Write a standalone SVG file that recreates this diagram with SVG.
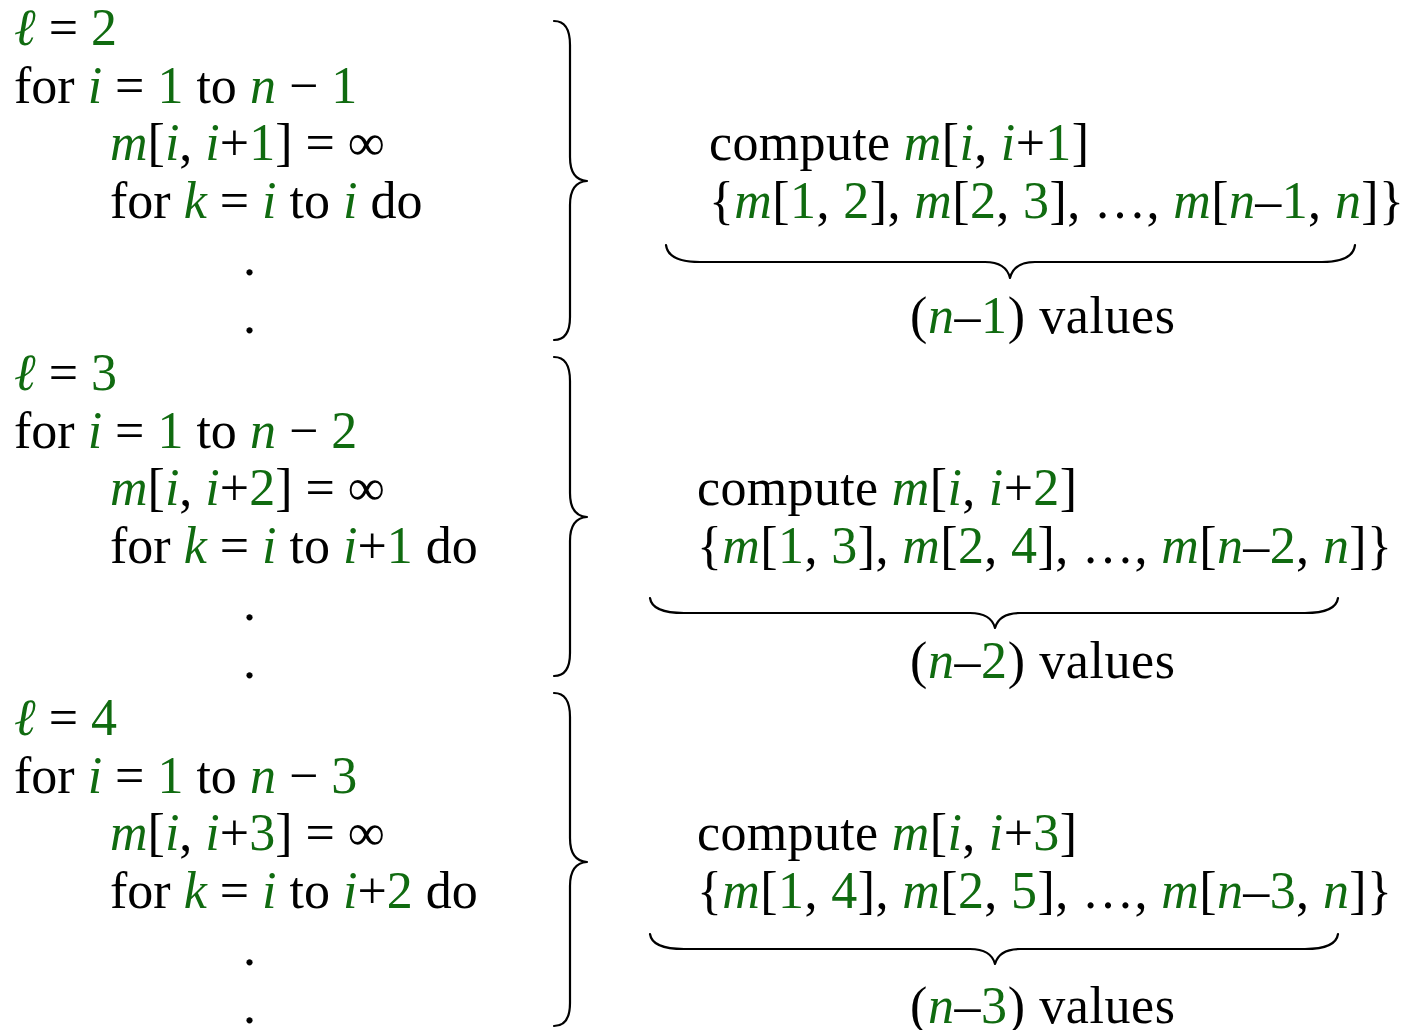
<svg xmlns="http://www.w3.org/2000/svg" width="1408" height="1030" viewBox="0 0 1408 1030">
<style>
text{font-family:"Liberation Serif","Times New Roman",serif;font-size:52px;fill:#000}
.v{fill:#106b10;font-style:italic}
.n{fill:#106b10}
.br{fill:none;stroke:#000;stroke-width:2.2;stroke-linecap:round;stroke-linejoin:round}
</style>
<rect width="1408" height="1030" fill="#fff"/>
<g id="block1-code">
<text x="14" y="45"><tspan class="v">ℓ</tspan> = <tspan class="n">2</tspan></text>
<text x="14" y="102.5">for <tspan class="v">i</tspan> = <tspan class="n">1</tspan> to <tspan class="v">n</tspan> − <tspan class="n">1</tspan></text>
<text x="110" y="160"><tspan class="v">m</tspan>[<tspan class="v">i</tspan>, <tspan class="v">i</tspan>+<tspan class="n">1</tspan>] = ∞</text>
<text x="110" y="217.5">for <tspan class="v">k</tspan> = <tspan class="v">i</tspan> to <tspan class="v">i</tspan> do</text>
<text x="243" y="275">.</text>
<text x="243" y="332.5">.</text>
</g>
<g id="block1-result">
<text x="709" y="160" textLength="380" lengthAdjust="spacing">compute <tspan class="v">m</tspan>[<tspan class="v">i</tspan>, <tspan class="v">i</tspan>+<tspan class="n">1</tspan>]</text>
<text x="709" y="217.5" textLength="695" lengthAdjust="spacing">{<tspan class="v">m</tspan>[<tspan class="n">1</tspan>, <tspan class="n">2</tspan>], <tspan class="v">m</tspan>[<tspan class="n">2</tspan>, <tspan class="n">3</tspan>], …, <tspan class="v">m</tspan>[<tspan class="v">n</tspan>–<tspan class="n">1</tspan>, <tspan class="v">n</tspan>]}</text>
<text x="910" y="332.5" textLength="265" lengthAdjust="spacing">(<tspan class="v">n</tspan>–<tspan class="n">1</tspan>) values</text>
</g>
<g id="block2-code">
<text x="14" y="390"><tspan class="v">ℓ</tspan> = <tspan class="n">3</tspan></text>
<text x="14" y="447.5">for <tspan class="v">i</tspan> = <tspan class="n">1</tspan> to <tspan class="v">n</tspan> − <tspan class="n">2</tspan></text>
<text x="110" y="505"><tspan class="v">m</tspan>[<tspan class="v">i</tspan>, <tspan class="v">i</tspan>+<tspan class="n">2</tspan>] = ∞</text>
<text x="110" y="562.5">for <tspan class="v">k</tspan> = <tspan class="v">i</tspan> to <tspan class="v">i</tspan>+<tspan class="n">1</tspan> do</text>
<text x="243" y="620">.</text>
<text x="243" y="677.5">.</text>
</g>
<g id="block2-result">
<text x="697" y="505" textLength="380" lengthAdjust="spacing">compute <tspan class="v">m</tspan>[<tspan class="v">i</tspan>, <tspan class="v">i</tspan>+<tspan class="n">2</tspan>]</text>
<text x="697" y="562.5" textLength="695" lengthAdjust="spacing">{<tspan class="v">m</tspan>[<tspan class="n">1</tspan>, <tspan class="n">3</tspan>], <tspan class="v">m</tspan>[<tspan class="n">2</tspan>, <tspan class="n">4</tspan>], …, <tspan class="v">m</tspan>[<tspan class="v">n</tspan>–<tspan class="n">2</tspan>, <tspan class="v">n</tspan>]}</text>
<text x="910" y="677.5" textLength="265" lengthAdjust="spacing">(<tspan class="v">n</tspan>–<tspan class="n">2</tspan>) values</text>
</g>
<g id="block3-code">
<text x="14" y="735"><tspan class="v">ℓ</tspan> = <tspan class="n">4</tspan></text>
<text x="14" y="792.5">for <tspan class="v">i</tspan> = <tspan class="n">1</tspan> to <tspan class="v">n</tspan> − <tspan class="n">3</tspan></text>
<text x="110" y="850"><tspan class="v">m</tspan>[<tspan class="v">i</tspan>, <tspan class="v">i</tspan>+<tspan class="n">3</tspan>] = ∞</text>
<text x="110" y="907.5">for <tspan class="v">k</tspan> = <tspan class="v">i</tspan> to <tspan class="v">i</tspan>+<tspan class="n">2</tspan> do</text>
<text x="243" y="965">.</text>
<text x="243" y="1022.5">.</text>
</g>
<g id="block3-result">
<text x="697" y="850" textLength="380" lengthAdjust="spacing">compute <tspan class="v">m</tspan>[<tspan class="v">i</tspan>, <tspan class="v">i</tspan>+<tspan class="n">3</tspan>]</text>
<text x="697" y="907.5" textLength="695" lengthAdjust="spacing">{<tspan class="v">m</tspan>[<tspan class="n">1</tspan>, <tspan class="n">4</tspan>], <tspan class="v">m</tspan>[<tspan class="n">2</tspan>, <tspan class="n">5</tspan>], …, <tspan class="v">m</tspan>[<tspan class="v">n</tspan>–<tspan class="n">3</tspan>, <tspan class="v">n</tspan>]}</text>
<text x="910" y="1022.5" textLength="265" lengthAdjust="spacing">(<tspan class="v">n</tspan>–<tspan class="n">3</tspan>) values</text>
</g>
<g id="connectors">
<path class="br" d="M554,21 Q570,21 570,45 L570,157 Q570,180 587,181 Q570,182 570,205 L570,317 Q570,340 554,340"/>
<path class="br" d="M554,357 Q570,357 570,381 L570,493 Q570,516 587,517 Q570,518 570,541 L570,653 Q570,676 554,676"/>
<path class="br" d="M554,693 Q570,693 570,717 L570,838 Q570,861 587,862 Q570,863 570,886 L570,1003 Q570,1026 554,1026"/>
<path class="br" d="M666,245 Q668,262 700,262 L985,262 Q1006,262 1010,278 Q1014,262 1035,262 L1322,262 Q1353,262 1355,245"/>
<path class="br" d="M650,598 Q652,613 684,613 L970,613 Q991,613 995,628 Q999,613 1020,613 L1305,613 Q1336,613 1338,598"/>
<path class="br" d="M650,934 Q652,949 684,949 L970,949 Q991,949 995,964 Q999,949 1020,949 L1305,949 Q1336,949 1338,934"/>
</g>
</svg>
